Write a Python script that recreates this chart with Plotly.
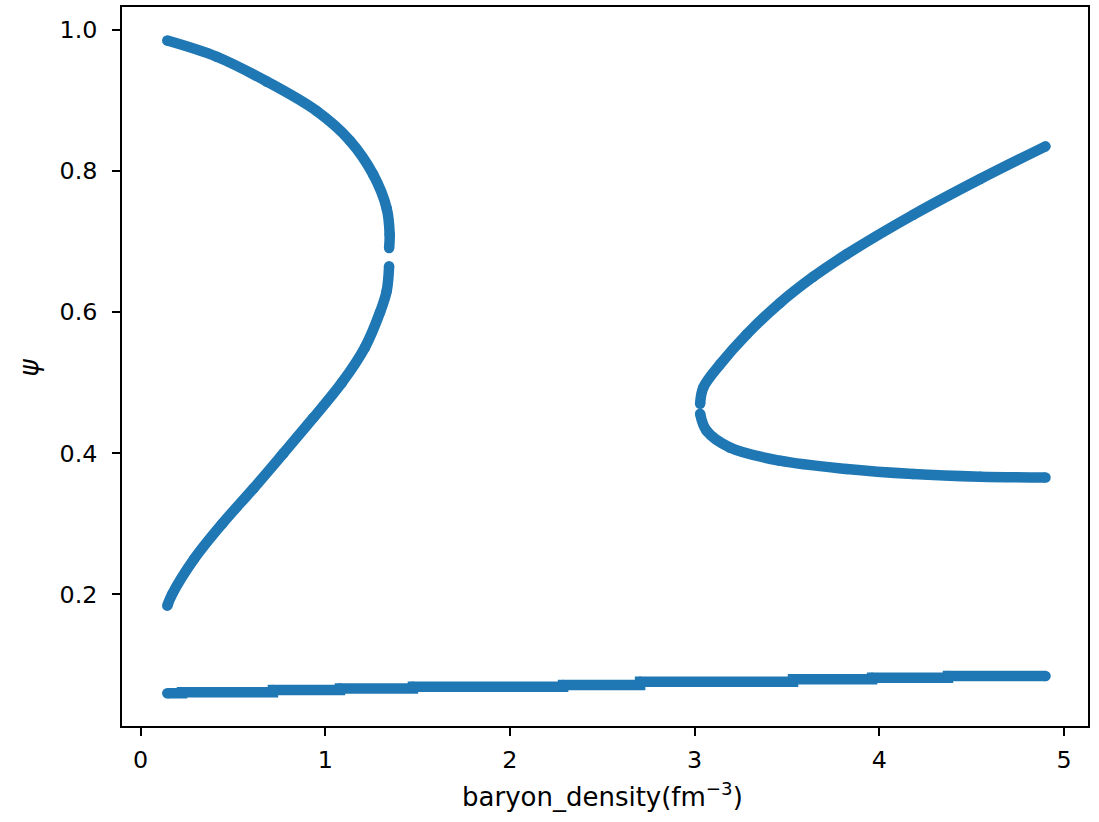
import plotly.graph_objects as go

# ---- data (baryon density in fm^-3, psi) ----
left_upper_x = [0.145, 0.413, 0.683, 0.954, 1.134, 1.260, 1.333, 1.349, 1.346]
left_upper_psi = [0.985, 0.962, 0.927, 0.885, 0.843, 0.795, 0.747, 0.710, 0.691]

left_lower_x = [0.145, 0.171, 0.29, 0.442, 0.611, 0.774, 0.935, 1.09, 1.215, 1.297, 1.333, 1.346]
left_lower_psi = [0.184, 0.20, 0.25, 0.30, 0.35, 0.40, 0.45, 0.50, 0.55, 0.60, 0.63, 0.665]

right_upper_x = [3.03, 3.047, 3.138, 3.282, 3.462, 3.642, 3.823, 4.184, 4.546, 4.9]
right_upper_psi = [0.470, 0.493, 0.526, 0.5685, 0.613, 0.650, 0.682, 0.738, 0.7887, 0.835]

right_lower_x = [3.03, 3.065, 3.191, 3.462, 3.823, 4.184, 4.546, 4.9]
right_lower_psi = [0.456, 0.4318, 0.4082, 0.3894, 0.3777, 0.3706, 0.3668, 0.3655]

bottom_x = [0.145, 0.225, 0.717, 1.080, 1.475, 2.288, 2.705, 3.533, 3.961, 4.372, 4.9]
bottom_psi = [0.0597, 0.0611, 0.0643, 0.0667, 0.0690, 0.0714, 0.0760, 0.0797, 0.0819, 0.0843, 0.0843]

x_ticks = [0, 1, 2, 3, 4, 5]
y_ticks = [0.2, 0.4, 0.6, 0.8, 1.0]
y_tick_labels = ["0.2", "0.4", "0.6", "0.8", "1.0"]

BLUE = "#1f77b4"
DOT = 10.5
FONT = "DejaVu Sans"

fig = go.Figure()


def add_branch(xs, ys, shape):
    line = dict(color=BLUE, width=DOT, shape=shape)
    if shape == "spline":
        line["smoothing"] = 1.0
    fig.add_trace(go.Scatter(
        x=xs, y=ys, mode="lines+markers",
        line=line,
        marker=dict(color=BLUE, size=DOT, line=dict(width=0)),
        showlegend=False, hoverinfo="skip",
    ))


add_branch(left_upper_x, left_upper_psi, "spline")
add_branch(left_lower_x, left_lower_psi, "spline")
add_branch(right_upper_x, right_upper_psi, "spline")
add_branch(right_lower_x, right_lower_psi, "spline")
add_branch(bottom_x, bottom_psi, "hv")

axis_common = dict(
    showgrid=False, zeroline=False,
    showline=True, linecolor="black", linewidth=1.6, mirror=True,
    ticks="outside", ticklen=8, tickwidth=1.5, tickcolor="black",
    tickfont=dict(family=FONT, size=23.8, color="black"),
)

fig.update_layout(
    width=1099, height=822,
    margin=dict(l=122, r=11, t=5, b=96),
    paper_bgcolor="white", plot_bgcolor="white",
    font=dict(family=FONT, size=23.8, color="black"),
    xaxis=dict(range=[-0.1002, 5.1301], tickvals=x_ticks, ticklabelstandoff=4, **axis_common),
    yaxis=dict(range=[0.0134, 1.0325], tickvals=y_ticks, ticktext=y_tick_labels,
               ticklabelstandoff=10, **axis_common),
    annotations=[
        dict(text="baryon_density(fm<sup>\u22123</sup>)", xref="paper", yref="paper",
             x=0.4975, y=-0.0957, xanchor="center", yanchor="middle", showarrow=False,
             font=dict(family=FONT, size=26, color="black")),
        dict(text="<i>\u03c8</i>", xref="paper", yref="paper", textangle=-90,
             x=-0.0966, y=0.4983, xanchor="center", yanchor="middle", showarrow=False,
             font=dict(family=FONT, size=26, color="black")),
    ],
)

fig.write_html("out.html")
